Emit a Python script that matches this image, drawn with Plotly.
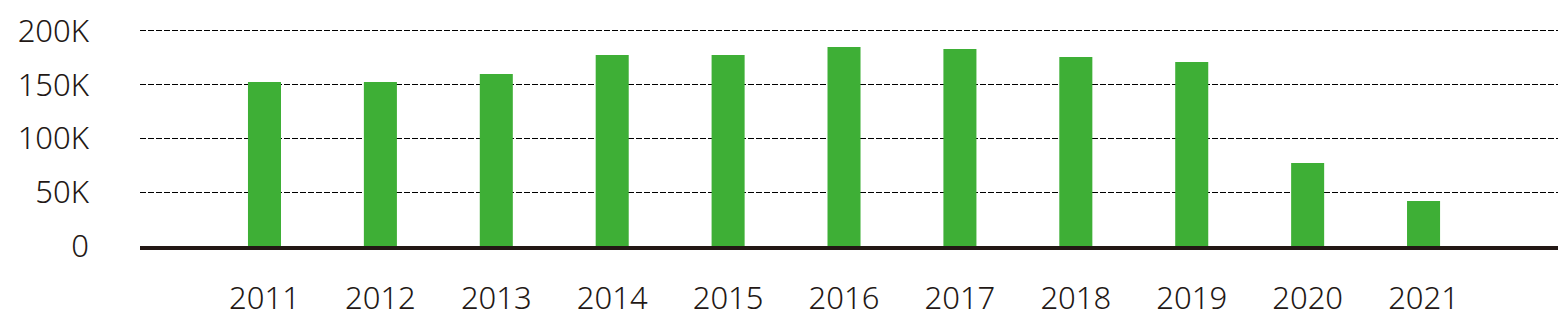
import plotly.graph_objects as go

years = ["2011", "2012", "2013", "2014", "2015", "2016", "2017", "2018", "2019", "2020", "2021"]
values = [152600, 152600, 160000, 177700, 177700, 185100, 183300, 175800, 171200, 77200, 41900]
tick_vals = [0, 50000, 100000, 150000, 200000]
tick_text = ["0", "50K", "100K", "150K", "200K"]

fig = go.Figure(go.Bar(
    x=years, y=values, marker_color="#3eaf36", marker_line_width=0, width=0.285,
))

fig.update_layout(
    width=1563, height=323,
    margin=dict(l=140, r=5, t=20, b=77),
    paper_bgcolor="white", plot_bgcolor="white",
    showlegend=False,
    font=dict(family="Noto Sans", size=31, color="#231815", weight=300),
)
fig.update_xaxes(
    type="category", range=[-1.074, 11.16],
    showline=True, linewidth=4, linecolor="#231815",
    showgrid=False, ticks="", ticklabelstandoff=22,
    tickfont=dict(size=31, weight=300),
)
fig.update_yaxes(
    range=[0, 210200], tickvals=tick_vals, ticktext=tick_text,
    showgrid=True, gridcolor="#000000", gridwidth=1, griddash="6px,2px",
    zeroline=False, showline=False, ticks="", ticklabelstandoff=50,
    tickfont=dict(size=31, weight=300),
)

fig.write_html("out.html")
